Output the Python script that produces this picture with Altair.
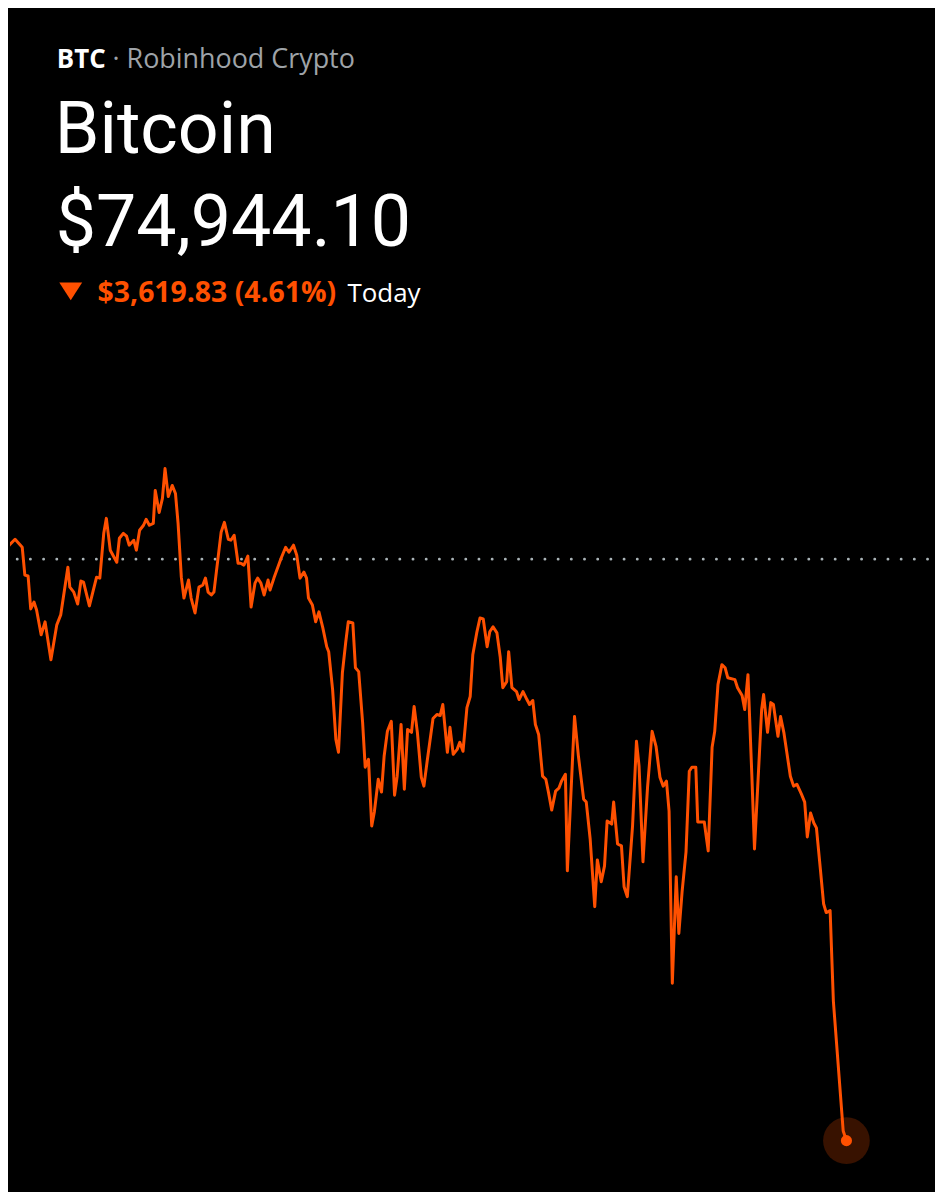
import altair as alt
import pandas as pd

# ---- data -------------------------------------------------------------
ticker = "BTC"
venue = "· Robinhood Crypto"
name = "Bitcoin"
price_label = "$74,944.10"
change_label = "$3,619.83 (4.61%)"
period_label = "Today"
previous_close = 78563.93

# minutes since start of day (24h session) and price
minutes = [0, 11, 20, 31, 35, 40, 44, 49, 53, 60, 66, 75, 84, 90, 101, 104, 110, 116, 121, 125,
           134, 145, 150, 156, 160, 166, 176, 180, 186, 191, 195, 202, 206, 211, 217, 221, 226, 232, 235, 241,
           246, 250, 255, 261, 266, 270, 275, 279, 286, 290, 296, 302, 308, 312, 316, 321, 325, 336, 341, 347,
           351, 356, 362, 366, 371, 377, 382, 388, 392, 397, 402, 408, 411, 417, 423, 428, 435, 440, 447, 452,
           457, 463, 467, 470, 476, 481, 486, 492, 498, 501, 507, 512, 516, 522, 527, 531, 538, 542, 547, 553,
           557, 562, 567, 571, 577, 582, 586, 591, 597, 602, 606, 612, 617, 622, 628, 632, 637, 643, 647, 652,
           661, 667, 672, 676, 683, 687, 692, 698, 702, 707, 713, 718, 722, 728, 733, 738, 744, 748, 753, 759,
           764, 768, 774, 777, 782, 789, 793, 799, 805, 809, 814, 818, 823, 829, 834, 838, 843, 849, 854, 858,
           864, 867, 878, 884, 892, 896, 902, 909, 913, 919, 924, 928, 935, 938, 944, 950, 954, 959, 967, 973,
           977, 983, 990, 997, 1003, 1009, 1014, 1019, 1023, 1028, 1034, 1038, 1043, 1049, 1054, 1058, 1064, 1067, 1077, 1083,
           1089, 1093, 1098, 1104, 1109, 1113, 1124, 1128, 1135, 1139, 1144, 1150, 1154, 1159, 1165, 1168, 1174, 1179, 1183, 1190,
           1194, 1199, 1209, 1214, 1219, 1226, 1231, 1235, 1240, 1245, 1249, 1255, 1260, 1264, 1270, 1275, 1290, 1295]

prices = [78558, 78651, 78688, 78638, 78465, 78459, 78254, 78297, 78248, 78093, 78174, 77938, 78155, 78217, 78514, 78390, 78359, 78285, 78428, 78421,
          78273, 78452, 78446, 78725, 78818, 78620, 78545, 78694, 78725, 78707, 78651, 78682, 78620, 78744, 78775, 78812, 78775, 78787, 78992, 78855,
          78942, 79128, 78954, 79023, 78973, 78787, 78452, 78322, 78434, 78322, 78229, 78390, 78403, 78446, 78359, 78341, 78359, 78731, 78793, 78688,
          78682, 78713, 78539, 78539, 78527, 78583, 78266, 78415, 78446, 78415, 78341, 78434, 78372, 78446, 78514, 78570, 78638, 78607, 78651, 78589,
          78446, 78483, 78446, 78322, 78279, 78174, 78236, 78136, 78019, 77988, 77752, 77442, 77362, 77857, 78043, 78174, 78167, 77888, 77864, 77548,
          77269, 77318, 76903, 76990, 77194, 77114, 77337, 77492, 77554, 77095, 77213, 77535, 77132, 77504, 77486, 77647, 77486, 77207, 77151, 77306,
          77572, 77597, 77591, 77659, 77362, 77517, 77349, 77380, 77424, 77368, 77640, 77709, 77969, 78105, 78198, 78192, 78019, 78112, 78143, 78105,
          77957, 77764, 77802, 77988, 77764, 77740, 77690, 77740, 77690, 77659, 77684, 77535, 77473, 77213, 77194, 77114, 77002, 77120, 77138, 77182,
          77225, 76624, 77585, 77337, 77070, 77052, 76822, 76401, 76692, 76556, 76655, 76934, 76915, 77052, 76791, 76779, 76525, 76463, 76903, 77430,
          77275, 76680, 77145, 77492, 77399, 77207, 77151, 77182, 76996, 75924, 76587, 76234, 76494, 76742, 77244, 77269, 77269, 76928, 76928, 76748,
          77393, 77492, 77783, 77907, 77888, 77826, 77814, 77764, 77715, 77628, 77845, 77213, 76760, 77151, 77628, 77721, 77486, 77671, 77659, 77461,
          77585, 77486, 77213, 77151, 77163, 77101, 77052, 76835, 76984, 76922, 76891, 76636, 76419, 76364, 76376, 75812, 75006, 74944.10]

df = pd.DataFrame({"minute": minutes, "price": prices})
last = df.iloc[[-1]]
base = pd.DataFrame({"price": [previous_close]})

ORANGE = "#ff5000"
W, H = 927, 1184

xs = alt.Scale(domain=[12.22, 1427.79], nice=False, zero=False)
ys = alt.Scale(domain=[74640.4, 81979.2], nice=False, zero=False)

rule = alt.Chart(base).mark_rule(
    color="#aab4b8", strokeWidth=2.8, strokeCap="round",
    strokeDash=[0.1, 13.15], strokeDashOffset=7.8
).encode(y=alt.Y("price:Q", scale=ys, axis=None))

line = alt.Chart(df).mark_line(
    color=ORANGE, strokeWidth=3, clip=True, strokeJoin="round"
).encode(
    x=alt.X("minute:Q", scale=xs, axis=None),
    y=alt.Y("price:Q", scale=ys, axis=None),
)

halo = alt.Chart(last).mark_circle(color=ORANGE, opacity=0.22, size=2200).encode(
    x=alt.X("minute:Q", scale=xs, axis=None), y=alt.Y("price:Q", scale=ys, axis=None))
dot = alt.Chart(last).mark_circle(color=ORANGE, opacity=1, size=125).encode(
    x=alt.X("minute:Q", scale=xs, axis=None), y=alt.Y("price:Q", scale=ys, axis=None))

one = pd.DataFrame({"k": [0]})
BIG = "Roboto"
SMALL = "Open Sans"


def txt(text, x, y, size, color, weight="normal", font=SMALL):
    return alt.Chart(one).mark_text(
        text=text, align="left", baseline="alphabetic", font=font,
        fontSize=size, fontWeight=weight, color=color
    ).encode(x=alt.value(x), y=alt.value(y))


t_btc = txt(ticker, 47, 58, 26, "#ffffff", "bold")
t_venue = txt(venue, 103, 58, 27, "#9ea3a8")
t_name = txt(name, 45, 143, 72, "#ffffff", font=BIG)
t_price = txt(price_label, 46, 236, 72, "#ffffff", font=BIG)
tri = alt.Chart(one).mark_point(
    shape="M -1 -0.78 L 1 -0.78 L 0 0.78 Z", size=529, filled=True,
    color=ORANGE, opacity=1, strokeWidth=0
).encode(x=alt.value(61), y=alt.value(282))
t_change = txt(change_label, 88, 293, 28.5, ORANGE, "bold")
t_today = txt(period_label, 339, 293, 26, "#ffffff")

chart = alt.layer(
    rule, line, halo, dot, t_btc, t_venue, t_name, t_price, tri, t_change, t_today
).properties(
    width=W, height=H, padding=0, background="#000000"
).configure_view(stroke=None)

chart.save("out.html", embed_options={"renderer": "svg", "actions": False})
